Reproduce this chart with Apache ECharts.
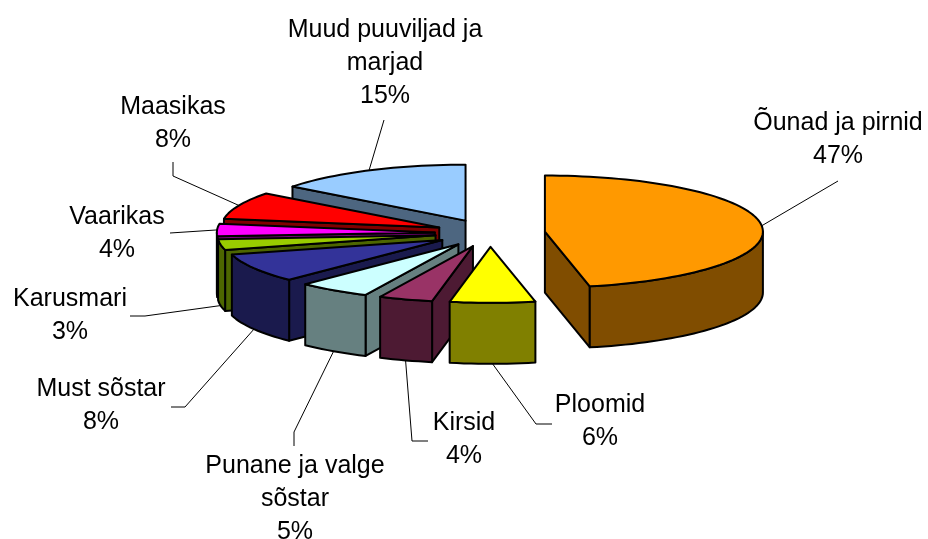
<!DOCTYPE html>
<html><head><meta charset="utf-8">
<style>html,body{margin:0;padding:0;background:#fff}#c{width:928px;height:539px}</style>
<script src="https://cdn.jsdelivr.net/npm/echarts@6/dist/echarts.min.js"></script>
</head><body><div id="c"></div>
<script>
const categories = ['Õunad ja pirnid','Ploomid','Kirsid','Punane ja valge\nsõstar','Must sõstar','Karusmari','Vaarikas','Maasikas','Muud puuviljad ja\nmarjad'];
const values = [46.7,6.3,4,5.4,8.4,3.1,3.6,7.9,14.6];
const topColors = ['#FF9900','#FFFF00','#993366','#CCFFFF','#333399','#99CC00','#FF00FF','#FF0000','#99CCFF'];
const wallColors = ['#804D00','#808000','#4D1A33','#668080','#1A1A4D','#4D6600','#800080','#800000','#4D6680'];
// label layout: text centre x, first-line centre y, leader elbow points
const labelLayout = [
  {x:838,y:123,elbow:[[838,181]]},
  {x:600,y:405,elbow:[[536,424],[552,424]]},
  {x:464,y:423,elbow:[[412,441],[428,441]]},
  {x:295,y:466,elbow:[[294,432],[294,446]]},
  {x:101,y:389,elbow:[[185,407],[171,407]]},
  {x:70,y:299,elbow:[[145,316],[130,316]]},
  {x:117,y:217,elbow:[[170,233]]},
  {x:173,y:107,elbow:[[173,176],[173,162]]},
  {x:385,y:30,elbow:[[384,120]]}
];
const G = {cx:490,cy:233,rx:218,ry:56,ex:55.2,ey:13.8,h:61,lw:2,font:'25px "Liberation Sans", Arial, sans-serif',lh:33};
const total = values.reduce((a,b)=>a+b,0);
const rad = d=>d*Math.PI/180;
let acc = 0;
const spans = values.map(v=>{const s=acc/total*360; acc+=v; return [s,acc/total*360];});
const drawOrder = values.map((_,i)=>values.length-1-i);

function rimPt(a,d,dy){return [a[0]+Math.sin(rad(d))*G.rx,a[1]-Math.cos(rad(d))*G.ry+(dy||0)];}
function arc(a,s,e,dy){const n=Math.max(2,Math.ceil(Math.abs(e-s)/2));const p=[];for(let i=0;i<=n;i++)p.push(rimPt(a,s+(e-s)*i/n,dy));return p;}
function poly(points,fill){return {type:'polygon',shape:{points},style:{fill,stroke:'#000',lineWidth:G.lw,lineJoin:'round'},silent:true};}

function renderItem(params,api){
  const i=api.value(0);
  const [s,e]=spans[i];
  const m=(s+e)/2;
  const a=[G.cx+Math.sin(rad(m))*G.ex,G.cy-Math.cos(rad(m))*G.ey];
  const ab=[a[0],a[1]+G.h];
  const ch=[];
  if(-Math.sin(rad(s))>1e-6) ch.push(poly([a,rimPt(a,s),rimPt(a,s,G.h),ab],wallColors[i]));
  if(Math.sin(rad(e))>1e-6) ch.push(poly([a,rimPt(a,e),rimPt(a,e,G.h),ab],wallColors[i]));
  const rs=Math.max(s,90),re=Math.min(e,270);
  if(re>rs) ch.push(poly(arc(a,rs,re).concat(arc(a,re,rs,G.h)),wallColors[i]));
  ch.push(poly([a].concat(arc(a,s,e)),topColors[i]));
  return {type:'group',children:ch};
}
function renderLabel(params,api){
  const i=api.value(0);
  const [s,e]=spans[i];
  const m=(s+e)/2;
  const a=[G.cx+Math.sin(rad(m))*G.ex,G.cy-Math.cos(rad(m))*G.ey];
  const low=m>95&&m<265;
  const start=rimPt(a,m,low?G.h:0);
  const L=labelLayout[i];
  const pct=Math.round(values[i]/total*100)+'%';
  return {type:'group',children:[
    {type:'polyline',shape:{points:[start].concat(L.elbow)},style:{stroke:'#000',lineWidth:1,fill:null},silent:true},
    {type:'text',x:L.x,y:L.y-G.lh/2,silent:true,style:{text:categories[i]+'\n'+pct,font:G.font,lineHeight:G.lh,fill:'#000',align:'center',verticalAlign:'top'}}
  ]};
}
const chart=echarts.init(document.getElementById('c'),null,{renderer:'canvas'});
chart.setOption({
  animation:false,
  backgroundColor:'#fff',
  series:[
    {type:'custom',coordinateSystem:'none',renderItem:renderLabel,z:1,data:drawOrder.map(i=>({name:categories[i],value:[i,values[i]]}))},
    {type:'custom',coordinateSystem:'none',renderItem:renderItem,z:2,data:drawOrder.map(i=>({name:categories[i],value:[i,values[i]]}))}
  ]
});
</script></body></html>
